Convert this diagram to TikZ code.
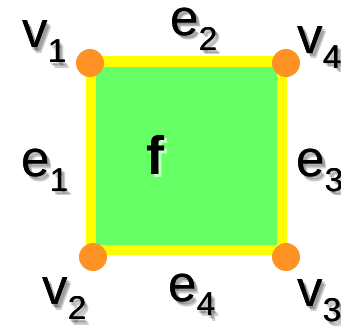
\documentclass[tikz,border=0pt]{standalone}
\usepackage{fontspec}
\setmainfont{Liberation Sans}
\definecolor{facegreen}{RGB}{102,255,102}
\definecolor{edgeyellow}{RGB}{255,255,0}
\definecolor{vertorange}{RGB}{255,146,36}
\newcommand\lsub[1]{\raisebox{-15pt}{\fontsize{33}{33}\selectfont #1}}
\tikzset{
  lbl/.style={font=\fontsize{51}{51}\selectfont, inner sep=0pt, anchor=base west},
  shad/.style={lbl, text=black, opacity=0.2},
  vdot/.style={circle, fill=vertorange, minimum size=28pt, inner sep=0pt},
}
\newcommand\shlab[4]{%
  \node[shad, xshift=1.5pt, yshift=-2pt] at (#2) {#3\lsub{#4}};
  \node[shad, xshift=3pt, yshift=-3.5pt] at (#2) {#3\lsub{#4}};
  \node[shad, xshift=4.5pt, yshift=-5pt] at (#2) {#3\lsub{#4}};
  \node[lbl, xshift=0.6pt] at (#2) {#3\lsub{#4}};
  \node[lbl] (#1) at (#2) {#3\lsub{#4}};
}
\begin{document}
\begin{tikzpicture}[x=1pt,y=-1pt]
\useasboundingbox (0,0) rectangle (341,332);
% face
\coordinate (c1) at (91,61.5);
\coordinate (c4) at (282,61.5);
\coordinate (c3) at (282,250);
\coordinate (c2) at (91,250);
\fill[facegreen] (c1) rectangle (c3);
\draw[edgeyellow, line width=10.5pt] (c1) -- (c4) -- (c3) -- (c2) -- cycle;
% vertices
\node[vdot] (d1) at (90,63) {};
\node[vdot] (d4) at (286,63) {};
\node[vdot] (d2) at (93,257) {};
\node[vdot] (d3) at (286,257) {};
% labels
\shlab{v1}{22,48}{v}{1}
\shlab{e2}{170,35}{e}{2}
\shlab{v4}{297,53}{v}{4}
\shlab{e1}{21,176}{e}{1}
\shlab{e3}{296,176}{e}{3}
\shlab{v2}{42,305}{v}{2}
\shlab{e4}{168,301}{e}{4}
\shlab{v3}{297,306}{v}{3}
% face label
\node[lbl, font=\fontsize{54}{54}\selectfont\bfseries, text=white, opacity=0.6, xshift=3pt, yshift=-3pt] at (146,175) {f};
\node[lbl, font=\fontsize{54}{54}\selectfont\bfseries] (f) at (146,175) {f};
\end{tikzpicture}
\end{document}
